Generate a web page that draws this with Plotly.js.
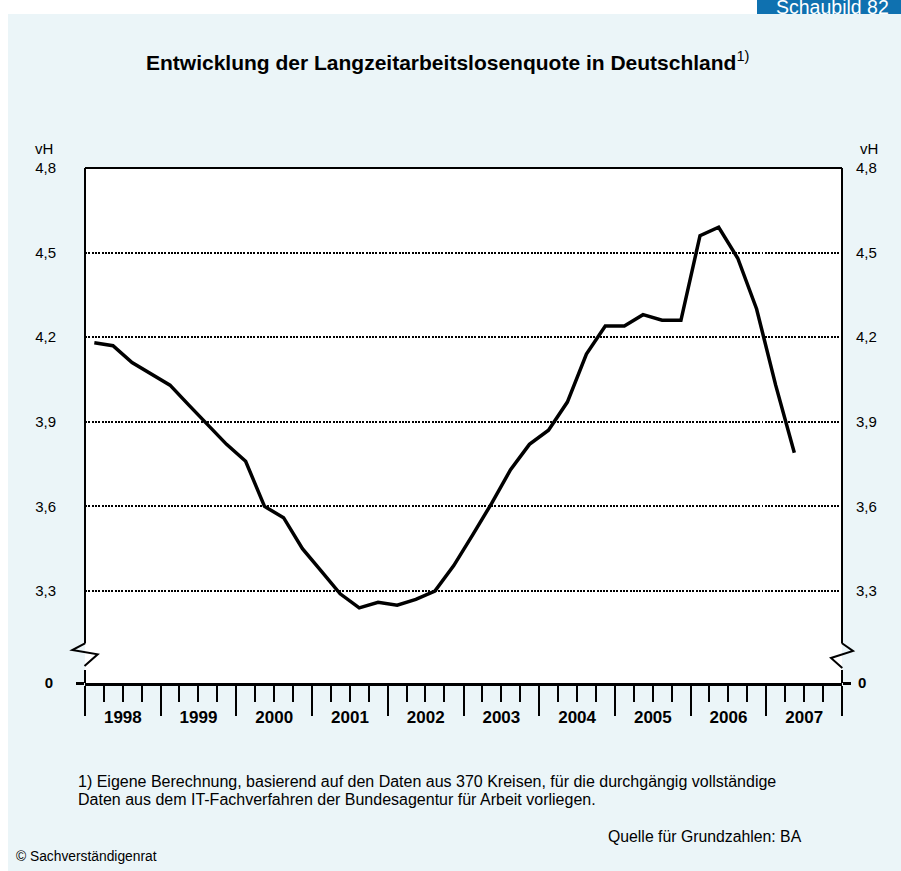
<!DOCTYPE html>
<html>
<head>
<meta charset="utf-8">
<script src="https://cdn.plot.ly/plotly-3.0.1.min.js"></script>
<style>
html,body{margin:0;padding:0;background:#ffffff;}
#chart{width:901px;height:871px;}
</style>
</head>
<body>
<div id="chart"></div>
<script>
// Quarterly observations (mid-quarter dates)
const periods = [
  '1998-02-15','1998-05-16','1998-08-16','1998-11-15',
  '1999-02-15','1999-05-16','1999-08-16','1999-11-15',
  '2000-02-15','2000-05-16','2000-08-16','2000-11-15',
  '2001-02-15','2001-05-16','2001-08-16','2001-11-15',
  '2002-02-15','2002-05-16','2002-08-16','2002-11-15',
  '2003-02-15','2003-05-16','2003-08-16','2003-11-15',
  '2004-02-15','2004-05-16','2004-08-16','2004-11-15',
  '2005-02-15','2005-05-16','2005-08-16','2005-11-15',
  '2006-02-15','2006-05-16','2006-08-16','2006-11-15',
  '2007-02-15','2007-05-16'
];
// Langzeitarbeitslosenquote in vH
const quote = [
  4.18, 4.17, 4.11, 4.07,
  4.03, 3.96, 3.89, 3.82,
  3.76, 3.60, 3.56, 3.45,
  3.37, 3.29, 3.24, 3.26,
  3.25, 3.27, 3.30, 3.39,
  3.50, 3.61, 3.73, 3.82,
  3.87, 3.97, 4.14, 4.24,
  4.24, 4.28, 4.26, 4.26,
  4.56, 4.59, 4.48, 4.30,
  4.03, 3.79
];
const yUpperRange = [3.0908, 4.8];
const yTick0 = 3.3, yDtick = 0.3;
const xRange = ['1998-01-01', '2008-01-01'];

const titleText = '<b>Entwicklung der Langzeitarbeitslosenquote in Deutschland</b><sup>1)</sup>';
const unitText = 'vH';
const footnoteLine1 = '1) Eigene Berechnung, basierend auf den Daten aus 370 Kreisen, für die durchgängig vollständige';
const footnoteLine2 = 'Daten aus dem IT-Fachverfahren der Bundesagentur für Arbeit vorliegen.';
const sourceText = 'Quelle für Grundzahlen: BA';
const copyrightText = '© Sachverständigenrat';
const badgeText = 'Schaubild 82';

// --- layout geometry helpers (decoration only) ---
const W = 901, H = 871;
const L = 85, R = 842, T = 168, B = 683;
const px = v => (v - L) / (R - L);
const py = v => (B - v) / (B - T);
const breakFrac = py(650);

const FONT = 'Liberation Sans, Arial, Helvetica, sans-serif';
const BG = '#EBF5F8';

const trace = {
  x: periods, y: quote, type: 'scatter', mode: 'lines',
  xaxis: 'x', yaxis: 'y',
  line: {color: '#000000', width: 3.5},
  hoverinfo: 'x+y', showlegend: false
};

function seg(x0, y0, x1, y1, w) {
  return {type: 'line', xref: 'paper', yref: 'paper',
    x0: px(x0), y0: py(y0), x1: px(x1), y1: py(y1),
    line: {color: '#000000', width: w}, layer: 'above'};
}
function pathPx(pts, w) {
  let d = pts.map((p, i) => (i ? 'L' : 'M') + px(p[0]) + ',' + py(p[1])).join(' ');
  return {type: 'path', xref: 'paper', yref: 'paper', path: d,
    line: {color: '#000000', width: w}, layer: 'above'};
}

const shapes = [
  // white page margins around the panel
  {type: 'rect', xref: 'paper', yref: 'paper', x0: px(0), x1: px(W), y0: py(14), y1: py(0),
   fillcolor: '#ffffff', line: {width: 0}, layer: 'below'},
  {type: 'rect', xref: 'paper', yref: 'paper', x0: px(0), x1: px(8), y0: py(H), y1: py(0),
   fillcolor: '#ffffff', line: {width: 0}, layer: 'below'},
  // badge
  {type: 'rect', xref: 'paper', yref: 'paper', x0: px(757), x1: px(W), y0: py(14), y1: py(0),
   fillcolor: '#0F71B0', line: {width: 0}, layer: 'below'},
  // frame: top
  seg(L, T, R, T, 2),
  // left & right frame with axis break
  seg(L, T, L, 643.5, 2),
  pathPx([[85, 643.3], [72.3, 650], [97.7, 654.3], [84.5, 666]], 2),
  seg(L, 670, L, B, 2),
  seg(R, T, R, 643.5, 2),
  pathPx([[842, 643.3], [853, 651], [831, 658], [842.3, 668]], 2),
  seg(R, 670, R, B, 2)
];

const annotations = [
  {text: titleText, xref: 'paper', yref: 'paper', x: px(447), y: py(61),
   xanchor: 'center', yanchor: 'middle', showarrow: false,
   font: {family: FONT, size: 21, color: '#000000'}},
  {text: unitText, xref: 'paper', yref: 'paper', x: px(33), y: py(148),
   xanchor: 'left', yanchor: 'middle', showarrow: false,
   font: {family: FONT, size: 15, color: '#000000'}},
  {text: unitText, xref: 'paper', yref: 'paper', x: px(858), y: py(148),
   xanchor: 'left', yanchor: 'middle', showarrow: false,
   font: {family: FONT, size: 15, color: '#000000'}},
  {text: footnoteLine1, xref: 'paper', yref: 'paper', x: px(76), y: py(781),
   xanchor: 'left', yanchor: 'middle', align: 'left', showarrow: false,
   font: {family: FONT, size: 16, color: '#000000'}},
  {text: footnoteLine2, xref: 'paper', yref: 'paper', x: px(76), y: py(799),
   xanchor: 'left', yanchor: 'middle', align: 'left', showarrow: false,
   font: {family: FONT, size: 16, color: '#000000'}},
  {text: sourceText, xref: 'paper', yref: 'paper', x: px(804), y: py(836),
   xanchor: 'right', yanchor: 'middle', showarrow: false,
   font: {family: FONT, size: 15.8, color: '#000000'}},
  {text: copyrightText, xref: 'paper', yref: 'paper', x: px(14), y: py(856),
   xanchor: 'left', yanchor: 'middle', showarrow: false,
   font: {family: FONT, size: 13.8, color: '#000000'}},
  {text: badgeText, xref: 'paper', yref: 'paper', x: px(774), y: py(7),
   xanchor: 'left', yanchor: 'middle', showarrow: false,
   font: {family: FONT, size: 19.5, color: '#ffffff'}}
];

const tickFont = {family: FONT, size: 15, color: '#000000'};
const boldTickFont = {family: FONT, size: 15, color: '#000000', weight: 'bold'};

const layout = {
  width: W, height: H,
  margin: {l: L, r: W - R, t: T, b: H - B, pad: 0},
  paper_bgcolor: BG, plot_bgcolor: '#ffffff',
  separators: ',.',
  showlegend: false,
  xaxis: {
    type: 'date', range: xRange, anchor: 'y2', domain: [0, 1],
    tickmode: 'linear', tick0: '1998-01-01', dtick: 'M12',
    ticklabelmode: 'period', tickformat: '%Y',
    ticks: 'outside', ticklen: 30, tickwidth: 2, tickcolor: '#000000',
    ticklabelstandoff: -13,
    tickfont: {family: FONT, size: 17, color: '#000000', weight: 'bold'},
    minor: {dtick: 'M3', tick0: '1998-01-01', ticks: 'outside', ticklen: 16, tickwidth: 2, tickcolor: '#000000', showgrid: false},
    showgrid: false, zeroline: false,
    showline: true, linewidth: 3, linecolor: '#000000'
  },
  yaxis: {
    domain: [breakFrac, 1], range: yUpperRange, anchor: 'x',
    tickmode: 'linear', tick0: yTick0, dtick: yDtick, tickformat: '.1f',
    ticks: '', ticklabelstandoff: 28, tickfont: tickFont,
    showgrid: true, gridcolor: '#000000', gridwidth: 2, griddash: '2px,1.3px',
    zeroline: false, showline: false
  },
  yaxis3: {
    overlaying: 'y', side: 'right', range: yUpperRange, anchor: 'x',
    tickmode: 'linear', tick0: yTick0, dtick: yDtick, tickformat: '.1f',
    ticks: '', ticklabelstandoff: 13, tickfont: tickFont,
    showgrid: false, zeroline: false, showline: false
  },
  yaxis2: {
    domain: [0, breakFrac], range: [0, 1], anchor: 'x',
    tickmode: 'linear', tick0: 0, dtick: 10,
    ticks: 'outside', ticklen: 8, tickwidth: 3, tickcolor: '#000000',
    ticklabelstandoff: 20, tickfont: boldTickFont,
    showgrid: false, zeroline: false, showline: false
  },
  yaxis4: {
    overlaying: 'y2', side: 'right', range: [0, 1], anchor: 'x',
    tickmode: 'linear', tick0: 0, dtick: 10,
    ticks: 'outside', ticklen: 8, tickwidth: 3, tickcolor: '#000000',
    ticklabelstandoff: 4, tickfont: boldTickFont,
    showgrid: false, zeroline: false, showline: false
  },
  shapes: shapes,
  annotations: annotations
};

const helper3 = {x: [periods[0]], y: [yUpperRange[0]], xaxis: 'x', yaxis: 'y3', mode: 'none', type: 'scatter', hoverinfo: 'skip', showlegend: false};
const helper2 = {x: [periods[0]], y: [0], xaxis: 'x', yaxis: 'y2', mode: 'none', type: 'scatter', hoverinfo: 'skip', showlegend: false};
const helper4 = {x: [periods[0]], y: [0], xaxis: 'x', yaxis: 'y4', mode: 'none', type: 'scatter', hoverinfo: 'skip', showlegend: false};

Plotly.newPlot('chart', [trace, helper2, helper3, helper4], layout, {displayModeBar: false, staticPlot: true});
</script>
</body>
</html>
